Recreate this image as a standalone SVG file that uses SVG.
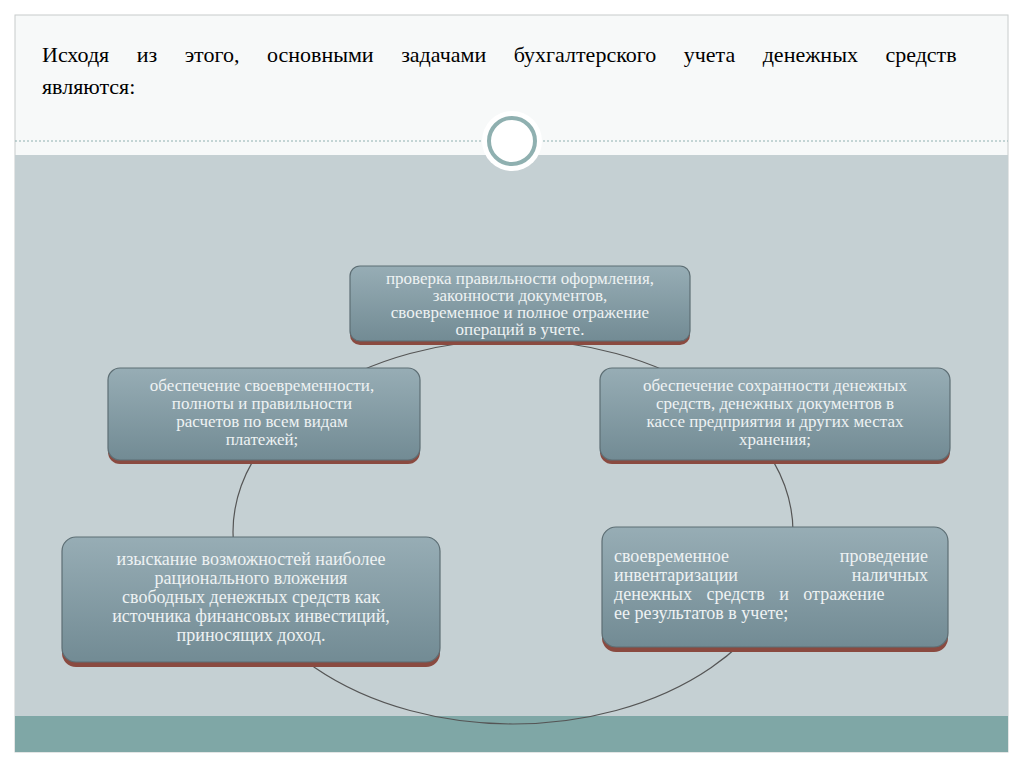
<svg xmlns="http://www.w3.org/2000/svg" width="1024" height="767" viewBox="0 0 1024 767">
<defs>
<linearGradient id="g" x1="0" y1="0" x2="0" y2="1"><stop offset="0" stop-color="#97adb5"/><stop offset="1" stop-color="#728b94"/></linearGradient>
<style>
.sh{fill:#8a4a40}
.box{fill:url(#g);stroke:#5d6e74;stroke-width:1.2}
.t{font-family:"Liberation Serif",serif;font-size:17px;fill:#eef2f3;text-anchor:middle}
.tl{font-family:"Liberation Serif",serif;font-size:18px;fill:#eef2f3}
</style>
</defs>
<rect width="1024" height="767" fill="#ffffff"/>
<rect x="15" y="15" width="993" height="737" fill="#f7f9f9" stroke="#c8cccc"/>
<rect x="15" y="155" width="993" height="561" fill="#c5d0d3"/>
<rect x="15" y="716" width="993" height="36" fill="#7fa7a6"/>
<line x1="15" y1="141" x2="1008" y2="141" stroke="#8fb0b0" stroke-dasharray="2,2"/>
<circle cx="512" cy="141" r="30" fill="#ffffff"/>
<circle cx="512" cy="141" r="23" fill="none" stroke="#8fb0b0" stroke-width="4"/>
<text x="42" y="62" font-family="Liberation Serif,serif" font-size="22" fill="#000" word-spacing="22">Исходя из этого, основными задачами бухгалтерского учета денежных средств</text>
<text x="42" y="94" font-family="Liberation Serif,serif" font-size="22" fill="#000">являются:</text>
<g id="connectors"><ellipse cx="513" cy="532" rx="280" ry="192" fill="none" stroke="#555" stroke-width="1.2"/></g>
<g id="n1"><rect class="sh" x="350" y="268" width="340" height="77" rx="10"/><rect class="box" x="350" y="266" width="340" height="75" rx="10"/>
<text class="t" x="520" y="284">проверка правильности оформления,</text>
<text class="t" x="520" y="301">законности документов,</text>
<text class="t" x="520" y="318">своевременное и полное отражение</text>
<text class="t" x="520" y="335">операций в учете.</text></g>
<g id="n2"><rect class="sh" x="108" y="370" width="312" height="94" rx="12"/><rect class="box" x="108" y="368" width="312" height="92" rx="12"/>
<text class="t" x="262" y="391">обеспечение своевременности,</text>
<text class="t" x="262" y="409">полноты и правильности</text>
<text class="t" x="262" y="427">расчетов по всем видам</text>
<text class="t" x="262" y="445">платежей;</text></g>
<g id="n3"><rect class="sh" x="600" y="370" width="350" height="94" rx="12"/><rect class="box" x="600" y="368" width="350" height="92" rx="12"/>
<text class="t" x="775" y="391">обеспечение сохранности денежных</text>
<text class="t" x="775" y="409">средств, денежных документов в</text>
<text class="t" x="775" y="427">кассе предприятия и других местах</text>
<text class="t" x="775" y="445">хранения;</text></g>
<g id="n4"><rect class="sh" x="62" y="539" width="378" height="128" rx="14"/><rect class="box" x="62" y="537" width="378" height="125" rx="14"/>
<text class="tl" x="251" y="565" text-anchor="middle">изыскание возможностей наиболее</text>
<text class="tl" x="251" y="584" text-anchor="middle">рационального вложения</text>
<text class="tl" x="251" y="603" text-anchor="middle">свободных денежных средств как</text>
<text class="tl" x="251" y="622" text-anchor="middle">источника финансовых инвестиций,</text>
<text class="tl" x="251" y="641" text-anchor="middle">приносящих доход.</text></g>
<g id="n5"><rect class="sh" x="602" y="529" width="346" height="123" rx="14"/><rect class="box" x="602" y="527" width="346" height="120" rx="14"/>
<text class="tl" x="614" y="562">своевременное</text><text class="tl" x="928" y="562" text-anchor="end">проведение</text>
<text class="tl" x="614" y="581">инвентаризации</text><text class="tl" x="928" y="581" text-anchor="end">наличных</text>
<text class="tl" x="614" y="600" word-spacing="10">денежных средств и отражение</text>
<text class="tl" x="614" y="619">ее результатов в учете;</text></g>
</svg>
